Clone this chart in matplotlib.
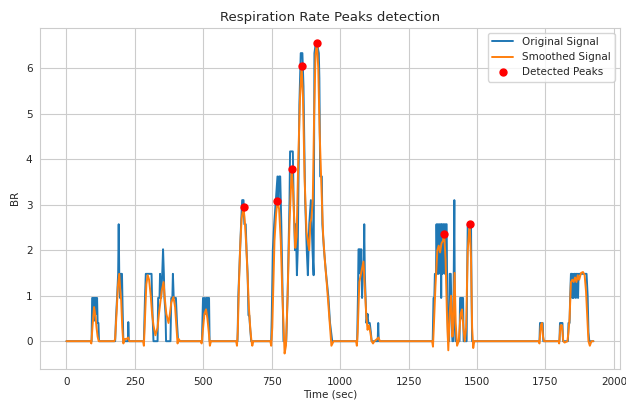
import matplotlib
matplotlib.use("Agg")
import matplotlib.pyplot as plt
import seaborn as sns

# Original signal (time, BR)
orig_t = [0, 92, 94, 99, 101, 103, 108, 110, 112, 114, 117, 119,
          178, 181, 185, 189, 191, 193, 196, 198, 203, 205, 208, 225, 226, 228,
          283, 287, 290, 311, 313, 316, 318, 333, 335, 340, 342, 346, 350, 353, 356, 358, 362, 364,
          368, 380, 383, 387, 389, 392, 395, 400, 404, 408,
          495, 499, 502, 505, 508, 511, 516, 518, 521, 523,
          625, 628, 631, 634, 638, 642, 647, 650, 655, 658, 662, 665, 668, 671, 675,
          748, 750, 754, 759, 765, 771, 774, 777, 781, 785, 790, 793, 803,
          808, 813, 815, 817, 822, 827, 830, 835, 838, 842, 845, 851, 856, 862, 866, 872,
          878, 882, 887, 893, 899, 903, 906, 911, 915, 922, 924, 927, 933, 935, 941, 949, 957, 963, 971,
          1062, 1065, 1067, 1072, 1074, 1077, 1080, 1083, 1086, 1088, 1090, 1093, 1096, 1100, 1103,
          1108, 1112, 1115, 1137, 1139, 1141,
          1338, 1341, 1344, 1346, 1350, 1352, 1355, 1357, 1360, 1362, 1365, 1367, 1369, 1371, 1374,
          1376, 1380, 1383, 1385, 1389, 1391, 1394, 1398, 1400, 1404, 1407, 1410, 1413, 1415, 1417,
          1419, 1422, 1436, 1438, 1442, 1444, 1446, 1449, 1451, 1462, 1464, 1466, 1471, 1474, 1478,
          1480, 1482,
          1728, 1730, 1740, 1742, 1801, 1803, 1812, 1814, 1832, 1834, 1838, 1840, 1843, 1846, 1848,
          1850, 1853, 1855, 1859, 1861, 1863, 1867, 1869, 1871, 1880, 1888, 1900, 1904, 1907, 1910, 1925]
orig_v = [0, 0, 0.95, 0.95, 0.45, 0.95, 0.95, 0.6, 0.95, 0.4, 0.4, 0,
          0, 0.5, 0.95, 1.48, 2.57, 1.48, 0.95, 1.48, 1.48, 0.8, 0, 0, 0.42, 0,
          0, 0.95, 1.48, 1.48, 0.9, 0.4, 0, 0, 0.95, 0.95, 1.48, 0.95, 1.48, 2.02, 1.48, 0.95, 0.6, 0,
          0, 0, 0.95, 0.95, 1.48, 0.95, 0.95, 0.95, 0.4, 0,
          0, 0.95, 0.5, 0.95, 0.6, 0.95, 0.95, 0.4, 0.95, 0,
          0, 1.0, 1.48, 2.0, 2.57, 3.1, 3.1, 2.57, 2.57, 2.0, 1.48, 0.57, 0.57, 0.3, 0,
          0, 0.5, 2.0, 2.57, 3.1, 3.62, 3.1, 3.62, 3.62, 2.57, 1.0, 0, 0,
          1.0, 2.57, 3.1, 4.17, 4.17, 4.17, 3.1, 2.0, 2.57, 1.45, 2.0, 5.2, 6.33, 6.33, 5.6, 3.1,
          2.0, 1.45, 2.57, 3.1, 2.0, 1.45, 6.33, 6.55, 6.55, 6.33, 5.78, 3.62, 3.62, 2.57, 2.0, 1.45, 0.97, 0.4, 0,
          0, 1.0, 2.02, 2.02, 1.48, 2.02, 0.95, 1.48, 1.7, 2.57, 1.48, 0.95, 0.4, 0.6, 0.4,
          0.4, 0.2, 0, 0, 0.4, 0,
          0, 0.95, 0.95, 1.48, 1.48, 2.57, 1.48, 2.57, 1.48, 2.57, 1.9, 2.57, 0.95, 2.57, 1.48,
          2.57, 2.57, 1.48, 2.57, 2.57, 1.0, 0, 0, 1.48, 1.48, 0.5, 0, 0, 1.48, 3.1,
          0.5, 0, 0, 0.95, 0.95, 0.5, 0.95, 0.95, 0, 0, 1.5, 2.57, 2.57, 2.57, 2.57,
          1.0, 0,
          0, 0.4, 0.4, 0, 0, 0.4, 0.4, 0, 0, 0.4, 0.4, 0.95, 1.48, 1.48, 0.95,
          1.48, 0.95, 1.48, 1.48, 0.95, 1.48, 1.48, 0.95, 1.48, 1.48, 1.48, 1.48, 1.0, 0.2, 0, 0]

# Smoothed signal (time, BR)
smooth_t = [0, 88, 91, 95, 101, 106, 110, 114, 118, 122,
            175, 178, 183, 188, 193, 197, 200, 204, 208, 213, 220, 226, 230,
            280, 283, 287, 292, 297, 302, 308, 313, 318, 325, 333, 338, 343, 348, 355, 360, 365, 373,
            378, 383, 391, 397, 402, 406, 410, 415,
            490, 494, 498, 504, 510, 515, 520, 524, 528,
            620, 623, 626, 630, 635, 640, 647, 652, 657, 662, 667, 672, 676, 679, 683,
            745, 748, 752, 760, 766, 771, 777, 783, 789, 797, 802, 808, 815, 823, 828, 836, 841,
            847, 853, 859, 864, 870, 877, 887, 891, 895, 900, 905, 910, 915, 920, 925, 932, 938, 945,
            952, 958, 963, 968, 972, 976,
            1058, 1061, 1064, 1070, 1075, 1080, 1085, 1090, 1095, 1100, 1105, 1110, 1115, 1120,
            1125, 1135, 1140, 1145,
            1336, 1339, 1342, 1348, 1355, 1360, 1365, 1370, 1375, 1380, 1385, 1390, 1395, 1400,
            1405, 1410, 1413, 1418, 1422, 1427, 1433, 1440, 1445, 1450, 1455, 1460, 1466, 1473,
            1478, 1482, 1486, 1490,
            1725, 1728, 1733, 1737, 1741, 1745, 1798, 1800, 1805, 1810, 1815, 1820, 1830, 1834,
            1838, 1843, 1848, 1853, 1858, 1863, 1868, 1873, 1880, 1887, 1893, 1898, 1903, 1907,
            1912, 1918, 1925]
smooth_v = [0, 0, -0.05, 0.3, 0.75, 0.55, 0.3, 0.1, 0.0, 0,
            0, 0.05, 0.6, 1.2, 1.48, 1.1, 0.9, 0.3, -0.05, 0.05, 0.05, 0.08, 0,
            0, -0.1, 0.5, 1.25, 1.45, 1.35, 1.0, 0.6, 0.35, 0.13, 0.3, 0.6, 0.85, 1.1, 1.3, 0.9, 0.6, 0.4,
            0.6, 0.85, 0.97, 0.75, 0.3, -0.05, 0.05, 0,
            0, -0.05, 0.2, 0.6, 0.7, 0.5, 0.2, -0.1, 0,
            0, -0.1, 0.2, 1.2, 2.1, 2.7, 2.95, 2.6, 2.1, 1.4, 0.7, 0.25, 0.0, -0.1, 0,
            0, -0.1, 0.3, 2.2, 2.8, 3.08, 2.9, 2.2, 1.0, -0.27, -0.1, 1.0, 2.6, 3.78, 3.3, 2.05, 2.3,
            4.0, 5.3, 6.05, 5.4, 3.6, 2.4, 2.0, 2.6, 2.7, 3.1, 5.0, 6.3, 6.55, 6.0, 4.6, 3.3, 2.3, 1.7,
            1.2, 0.7, 0.3, -0.1, -0.05, 0,
            0, -0.1, 0.2, 1.3, 1.45, 1.6, 1.75, 1.2, 0.6, 0.25, 0.35, 0.2, 0.0, -0.05,
            0.0, 0.05, 0.08, 0,
            0, -0.12, 0.3, 1.2, 2.0, 2.1, 1.95, 2.15, 2.2, 2.35, 1.8, 0.6, -0.2, 0.6,
            1.0, 0.1, 0.3, 1.5, 0.4, -0.1, 0.0, 0.6, 0.7, 0.3, 0.0, 0.3, 2.0, 2.58,
            1.8, 0.3, -0.15, 0,
            0, -0.05, 0.35, 0.4, 0.1, 0, 0, -0.05, 0.35, 0.35, 0.0, -0.03, 0, 0.2,
            0.5, 1.3, 1.35, 1.3, 1.4, 1.3, 1.45, 1.35, 1.5, 1.52, 1.45, 1.1, 0.5, 0.0,
            -0.1, 0.0, 0.0]

# Detected peaks
peak_t = [647, 771, 823, 859, 915, 1380, 1473]
peak_v = [2.95, 3.08, 3.78, 6.05, 6.55, 2.35, 2.58]

sns.set_style("whitegrid")
plt.rcParams['font.family'] = ['DejaVu Sans']

fig, ax = plt.subplots(figsize=(6.26, 4.0), dpi=100)
ax.plot(orig_t, orig_v, color='#1f77b4', lw=1.4, label='Original Signal')
ax.plot(smooth_t, smooth_v, color='#ff7f0e', lw=1.4, label='Smoothed Signal')
ax.plot(peak_t, peak_v, 'o', color='red', ms=5, label='Detected Peaks')

ax.set_title('Respiration Rate Peaks detection', fontsize=9.5, pad=5)
ax.set_xlabel('Time (sec)', fontsize=7.5, labelpad=2)
ax.set_ylabel('BR', fontsize=7.5, labelpad=4)
ax.tick_params(labelsize=7.5, pad=2)
ax.legend(loc='upper right', fontsize=7.5)

fig.subplots_adjust(left=0.064, right=0.99, bottom=0.0775, top=0.931)
fig.savefig('out.png', dpi=100)
